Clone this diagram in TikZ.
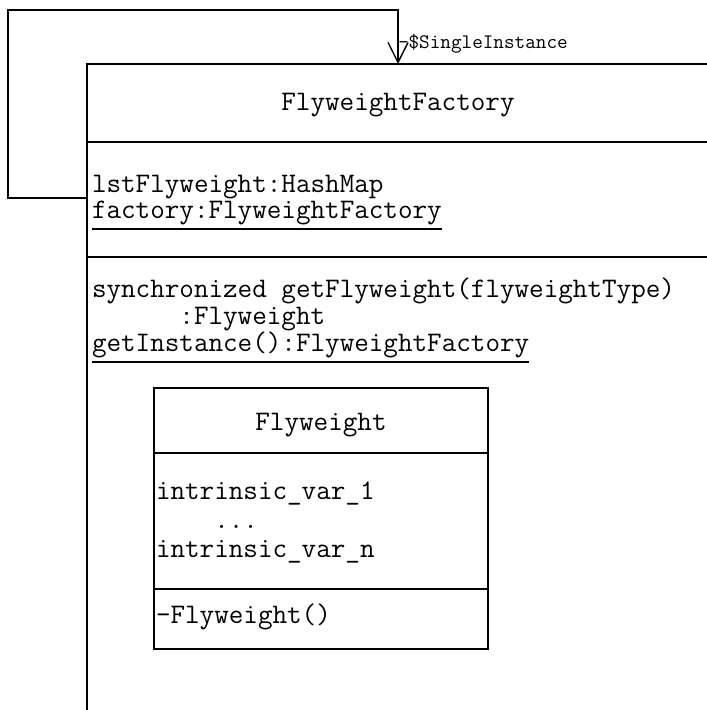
\documentclass[tikz,border=0pt]{standalone}
\usepackage{fontspec}
\usetikzlibrary{arrows.meta}
\tikzset{
  umlline/.style={line width=1.4bp},
  txt/.style={font=\ttfamily\fontsize{28.3bp}{30bp}\selectfont, inner sep=0pt, outer sep=0pt, anchor=base west},
  ctxt/.style={txt, anchor=base},
  smalltxt/.style={font=\ttfamily\fontsize{20.6bp}{22bp}\selectfont, inner sep=0pt, outer sep=0pt, anchor=base west},
  classbox/.style={draw, umlline, inner sep=0pt, outer sep=0pt, anchor=north west},
  uline/.style={line width=1.5bp},
}
\begin{document}
\begin{tikzpicture}[x=1bp,y=-1bp]
\useasboundingbox (0,0) rectangle (707,710);
\clip (0,0) rectangle (707,710);
% FlyweightFactory class
\node[classbox, minimum width=622bp, minimum height=700bp] (ff) at (87,64) {};
\node[ctxt] (ffname) at (398,111) {FlyweightFactory};
\draw[umlline] (87,142) -- (709,142);
\node[txt] (a1) at (92,192) {lstFlyweight:HashMap};
\node[txt] (a2) at (92,218) {factory:FlyweightFactory};
\draw[uline] ([yshift=-11bp]a2.base west) -- ([yshift=-11bp]a2.base east);
\draw[umlline] (87,257) -- (709,257);
\node[txt] (m1) at (92,297) {synchronized getFlyweight(flyweightType)};
\node[txt] (m2) at (92,324) {\hphantom{000000}:Flyweight};
\node[txt] (m3) at (92,351) {getInstance():FlyweightFactory};
\draw[uline] ([yshift=-11bp]m3.base west) -- ([yshift=-11bp]m3.base east);
% Flyweight class
\node[classbox, minimum width=334bp, minimum height=261bp] (fw) at (154,388) {};
\node[ctxt] (fwname) at (321,430) {Flyweight};
\draw[umlline] (154,453) -- (488,453);
\node[txt] (v1) at (156,499) {intrinsic\_var\_1};
\node[txt] (v2) at (156,528) {\hphantom{0000}...};
\node[txt] (v3) at (156,557) {intrinsic\_var\_n};
\draw[umlline] (154,589) -- (488,589);
\node[txt] (op) at (156,623) {-Flyweight()};
% self association
\coordinate (c1) at (8,198);
\coordinate (c2) at (8,10);
\draw[umlline, -{Straight Barb[length=20bp,width=20bp]}] (ff.west |- c1) -- (c1) -- (c2) -- (ff.north |- c2) -- (ff.north);
\node[smalltxt] (lbl) at ([yshift=15bp]ff.north) {-\$SingleInstance};
\end{tikzpicture}
\end{document}
